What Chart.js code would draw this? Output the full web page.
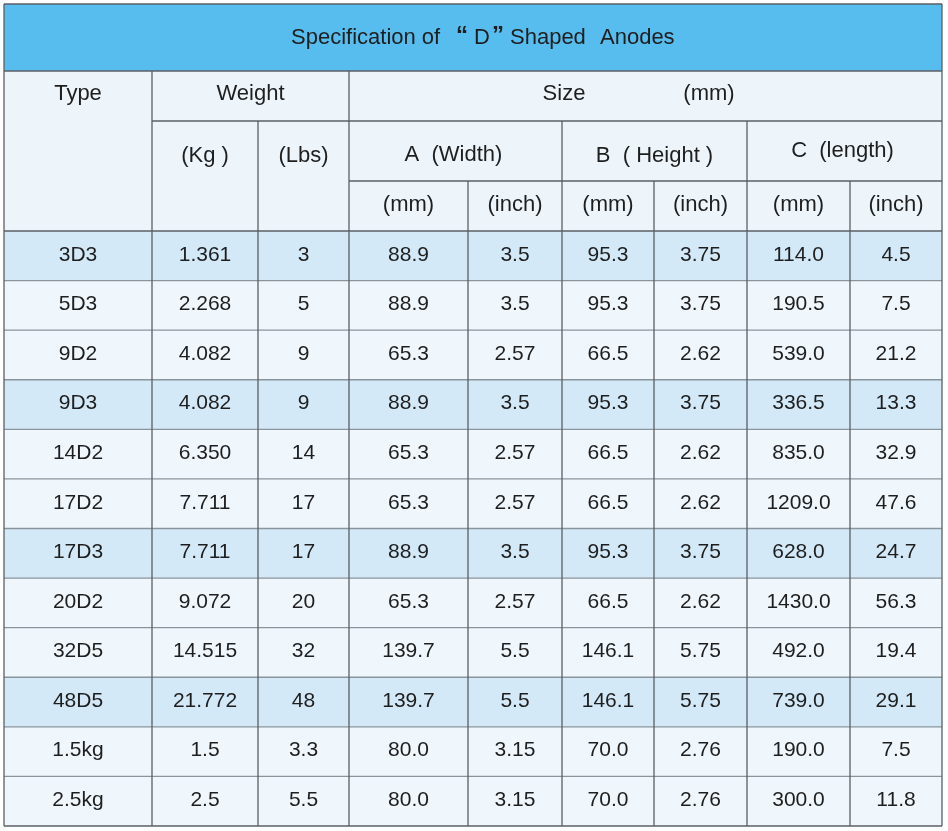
<!DOCTYPE html>
<html>
<head>
<meta charset="utf-8">
<script src="https://cdn.jsdelivr.net/npm/chart.js"></script>
<style>
  html, body { margin: 0; padding: 0; background: #fff; }
  #wrap { width: 948px; height: 831px; }
</style>
</head>
<body>
<div id="wrap"><canvas id="chart" width="948" height="831"></canvas></div>
<script>
// table data, one array per column
const types = ['3D3', '5D3', '9D2', '9D3', '14D2', '17D2', '17D3', '20D2', '32D5', '48D5', '1.5kg', '2.5kg']
const weightKg = ['1.361', '2.268', '4.082', '4.082', '6.350', '7.711', '7.711', '9.072', '14.515', '21.772', '1.5', '2.5']
const weightLbs = ['3', '5', '9', '9', '14', '17', '17', '20', '32', '48', '3.3', '5.5']
const widthMm = ['88.9', '88.9', '65.3', '88.9', '65.3', '65.3', '88.9', '65.3', '139.7', '139.7', '80.0', '80.0']
const widthInch = ['3.5', '3.5', '2.57', '3.5', '2.57', '2.57', '3.5', '2.57', '5.5', '5.5', '3.15', '3.15']
const heightMm = ['95.3', '95.3', '66.5', '95.3', '66.5', '66.5', '95.3', '66.5', '146.1', '146.1', '70.0', '70.0']
const heightInch = ['3.75', '3.75', '2.62', '3.75', '2.62', '2.62', '3.75', '2.62', '5.75', '5.75', '2.76', '2.76']
const lengthMm = ['114.0', '190.5', '539.0', '336.5', '835.0', '1209.0', '628.0', '1430.0', '492.0', '739.0', '190.0', '300.0']
const lengthInch = ['4.5', '7.5', '21.2', '13.3', '32.9', '47.6', '24.7', '56.3', '19.4', '29.1', '7.5', '11.8']

const unitLabels = ['(mm)', '(inch)', '(mm)', '(inch)', '(mm)', '(inch)']

const columns = [types, weightKg, weightLbs, widthMm, widthInch, heightMm, heightInch, lengthMm, lengthInch]

// layout (pixels)
const colEdges = [4, 152, 258, 349, 468, 562, 654, 747, 850, 942]
const headTop = 4, titleBottom = 71, head1 = 121, head2 = 181

const family = '"Liberation Sans", Arial, sans-serif'
const font = '21px ' + family
const headFont = '22px ' + family
const textColor = '#1e1e1e'
const lineColor = '#5a5f64'
const rowLine = '#8a949b'

const tablePlugin = {
    id: 'specTable',
    beforeDatasetsDraw(chart) {
        const ctx = chart.ctx
        const x = chart.scales.x
        const y = chart.scales.y
        const left = x.getPixelForValue(colEdges[0])
        const right = x.getPixelForValue(colEdges[colEdges.length - 1])
        const band = (chart.chartArea.bottom - chart.chartArea.top) / types.length

        ctx.save()
        // header backgrounds
        ctx.fillStyle = '#56bdee'
        ctx.fillRect(left, headTop, right - left, titleBottom - headTop)
        ctx.fillStyle = '#edf5fb'
        ctx.fillRect(left, titleBottom, right - left, chart.chartArea.top - titleBottom)

        // row backgrounds
        types.forEach((t, i) => {
            const cy = y.getPixelForValue(i)
            ctx.fillStyle = i % 3 === 0 ? '#d3e9f8' : '#f0f7fc'
            ctx.fillRect(left, cy - band / 2, right - left, band)
        })
        ctx.restore()
    },
    afterDatasetsDraw(chart) {
        const ctx = chart.ctx
        const x = chart.scales.x
        const y = chart.scales.y
        const px = v => x.getPixelForValue(v)
        const left = px(colEdges[0])
        const right = px(colEdges[colEdges.length - 1])
        const top = chart.chartArea.top
        const bottom = chart.chartArea.bottom
        const band = (bottom - top) / types.length
        const mid = j => (px(colEdges[j]) + px(colEdges[j + 1])) / 2

        ctx.save()
        const hline = (x1, x2, yy, c) => {
            ctx.strokeStyle = c || lineColor
            ctx.lineWidth = 1.3
            ctx.beginPath(); ctx.moveTo(x1, yy); ctx.lineTo(x2, yy); ctx.stroke()
        }
        const vline = (xx, y1, y2) => {
            ctx.strokeStyle = lineColor
            ctx.lineWidth = 1.3
            ctx.beginPath(); ctx.moveTo(xx, y1); ctx.lineTo(xx, y2); ctx.stroke()
        }

        // body row lines
        types.forEach((t, i) => {
            if (i > 0) hline(left, right, y.getPixelForValue(i) - band / 2, rowLine)
        })
        // header horizontal lines
        hline(left, right, headTop)
        hline(left, right, titleBottom)
        hline(px(colEdges[1]), right, head1)
        hline(px(colEdges[3]), right, head2)
        hline(left, right, top)
        hline(left, right, bottom)

        // vertical lines
        vline(left, headTop, bottom)
        vline(right, headTop, bottom)
        vline(px(colEdges[1]), titleBottom, bottom)
        vline(px(colEdges[2]), head1, bottom)
        vline(px(colEdges[3]), titleBottom, bottom)
        vline(px(colEdges[4]), head2, bottom)
        vline(px(colEdges[5]), head1, bottom)
        vline(px(colEdges[6]), head2, bottom)
        vline(px(colEdges[7]), head1, bottom)
        vline(px(colEdges[8]), head2, bottom)

        // title, drawn in pieces to keep the wide quote spacing
        ctx.fillStyle = textColor
        ctx.textBaseline = 'middle'
        ctx.textAlign = 'left'
        ctx.font = headFont
        ctx.fillText('Specification of', 291, 38)
        ctx.fillText('D', 474, 38)
        ctx.fillText('Shaped', 510, 38)
        ctx.fillText('Anodes', 600, 38)
        ctx.font = 'bold 24px ' + family
        ctx.fillText('\u201C', 456, 36)
        ctx.fillText('\u201D', 492, 36)

        // header text
        ctx.textAlign = 'center'
        ctx.font = headFont
        ctx.fillText('Type', mid(0), 94)
        ctx.fillText('Weight', (px(colEdges[1]) + px(colEdges[3])) / 2, 94)
        ctx.fillText('Size', 564, 94)
        ctx.fillText('(mm)', 709, 94)
        ctx.fillText('(Kg )', mid(1), 156)
        ctx.fillText('(Lbs)', mid(2), 156)
        ctx.fillText('A  (Width)', (px(colEdges[3]) + px(colEdges[5])) / 2 - 2, 155)
        ctx.fillText('B  ( Height )', (px(colEdges[5]) + px(colEdges[7])) / 2, 156)
        ctx.fillText('C  (length)', (px(colEdges[7]) + px(colEdges[9])) / 2 - 2, 151)
        unitLabels.forEach((u, k) => ctx.fillText(u, mid(k + 3), 205))

        // body cells
        ctx.font = font
        columns.forEach((col, j) => {
            col.forEach((v, i) => {
                ctx.fillText(v, mid(j), y.getPixelForValue(i) - 1)
            })
        })
        ctx.restore()
    }
}

new Chart(document.getElementById('chart'), {
    type: 'bar',
    data: {
        labels: types,
        datasets: [{
            label: 'Length (mm)',
            data: types.map(() => null),
            backgroundColor: 'rgba(0,0,0,0)'
        }]
    },
    options: {
        indexAxis: 'y',
        responsive: false,
        animation: false,
        layout: { padding: { top: 231, bottom: 5, left: 0, right: 0 } },
        scales: {
            x: { type: 'linear', min: 0, max: 948, display: false },
            y: { type: 'category', display: false, offset: true }
        },
        plugins: {
            legend: { display: false },
            tooltip: { enabled: false }
        }
    },
    plugins: [tablePlugin]
})
</script>
</body>
</html>
